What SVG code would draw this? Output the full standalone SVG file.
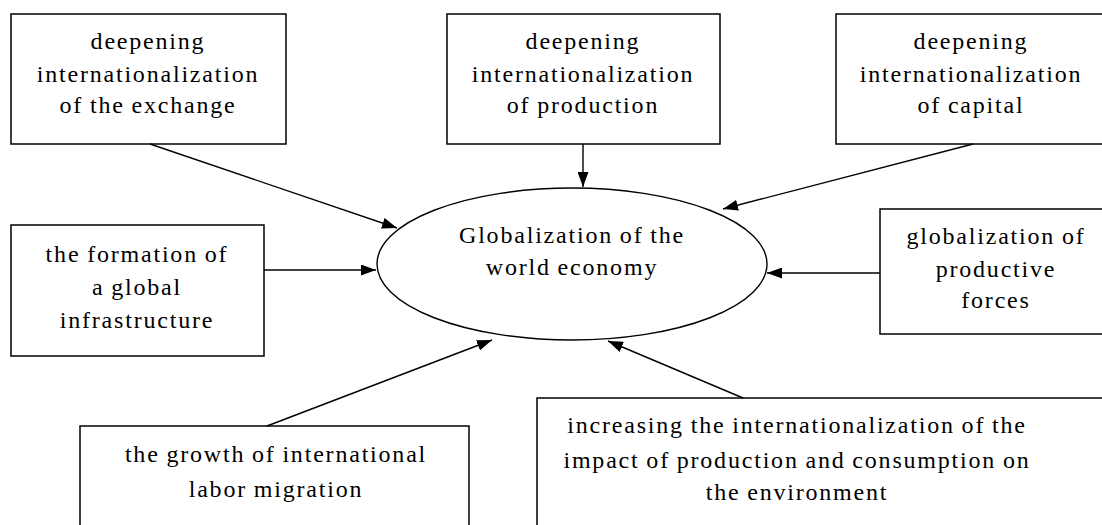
<svg xmlns="http://www.w3.org/2000/svg" width="1102" height="525" viewBox="0 0 1102 525">
<style>
  .box { fill: #ffffff; stroke: #000000; stroke-width: 1.5; }
  .lbl { font-family: "Liberation Serif", "Times New Roman", serif; font-size: 24px; letter-spacing: 1.8px; word-spacing: -1px; fill: #000000; text-anchor: middle; }
  .conn { stroke: #000000; stroke-width: 1.4; fill: none; marker-end: url(#ah); }
</style>
<defs>
  <marker id="ah" markerUnits="userSpaceOnUse" markerWidth="15" markerHeight="11" refX="15" refY="5.5" orient="auto">
    <path d="M0,0 L15,5.5 L0,11 z" fill="#000000"/>
  </marker>
</defs>
<rect width="1102" height="525" fill="#ffffff"/>

<g id="center">
  <ellipse cx="572" cy="264" rx="195" ry="76" fill="#ffffff" stroke="#000000" stroke-width="1.4"/>
  <text class="lbl" x="572" y="243">Globalization of the</text>
  <text class="lbl" x="572" y="275">world economy</text>
</g>

<g id="exchange">
  <rect class="box" x="11" y="14" width="275" height="130"/>
  <text class="lbl" x="148" y="49">deepening</text>
  <text class="lbl" x="148" y="82">internationalization</text>
  <text class="lbl" x="148" y="113">of the exchange</text>
</g>

<g id="production">
  <rect class="box" x="447" y="14" width="273" height="130"/>
  <text class="lbl" x="583" y="49">deepening</text>
  <text class="lbl" x="583" y="82">internationalization</text>
  <text class="lbl" x="583" y="113">of production</text>
</g>

<g id="capital">
  <rect class="box" x="836" y="14" width="275" height="130"/>
  <text class="lbl" x="971" y="49">deepening</text>
  <text class="lbl" x="971" y="82">internationalization</text>
  <text class="lbl" x="971" y="113">of capital</text>
</g>

<g id="infrastructure">
  <rect class="box" x="11" y="225" width="253" height="131"/>
  <text class="lbl" x="137" y="262">the formation of</text>
  <text class="lbl" x="137" y="295">a global</text>
  <text class="lbl" x="137" y="328">infrastructure</text>
</g>

<g id="productive">
  <rect class="box" x="880" y="209" width="235" height="125"/>
  <text class="lbl" x="996" y="244">globalization of</text>
  <text class="lbl" x="996" y="277">productive</text>
  <text class="lbl" x="996" y="308">forces</text>
</g>

<g id="migration">
  <rect class="box" x="80" y="426" width="389" height="120"/>
  <text class="lbl" x="276" y="462">the growth of international</text>
  <text class="lbl" x="276" y="497">labor migration</text>
</g>

<g id="environment">
  <rect class="box" x="537" y="398" width="580" height="150"/>
  <text class="lbl" x="797" y="433">increasing the internationalization of the</text>
  <text class="lbl" x="797" y="468">impact of production and consumption on</text>
  <text class="lbl" x="797" y="500">the environment</text>
</g>

<g id="connectors">
  <line class="conn" x1="150" y1="144" x2="397" y2="228"/>
  <line class="conn" x1="583" y1="144" x2="583" y2="187"/>
  <line class="conn" x1="973" y1="144" x2="723" y2="209"/>
  <line class="conn" x1="264" y1="270" x2="376" y2="270"/>
  <line class="conn" x1="267" y1="426" x2="492" y2="340"/>
  <line class="conn" x1="880" y1="273" x2="767" y2="273"/>
  <line class="conn" x1="743" y1="398" x2="608" y2="341"/>
</g>
</svg>
